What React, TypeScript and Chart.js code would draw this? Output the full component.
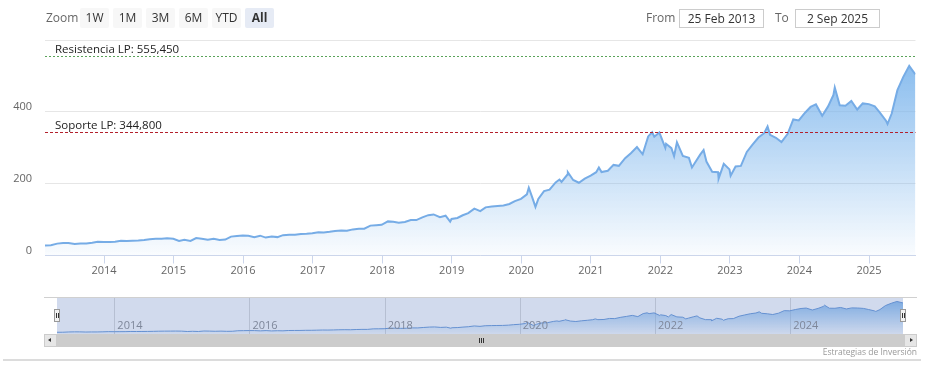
import React, { useEffect, useRef } from "react";
import { Chart, registerables } from "chart.js";
Chart.register(...registerables);

const dates = [
  "2013-02-25","2013-03-28","2013-04-30","2013-05-31","2013-06-28","2013-07-31","2013-08-30","2013-09-30","2013-10-31","2013-11-29","2013-12-31",
  "2014-01-31","2014-02-28","2014-03-31","2014-04-30","2014-05-30","2014-06-30","2014-07-31","2014-08-29","2014-09-30","2014-10-31","2014-11-28","2014-12-31",
  "2015-01-30","2015-02-27","2015-03-31","2015-04-30","2015-05-29","2015-06-30","2015-07-31","2015-08-31","2015-09-30","2015-10-30","2015-11-30","2015-12-31",
  "2016-01-29","2016-02-29","2016-03-31","2016-04-29","2016-05-31","2016-06-30","2016-07-29","2016-08-31","2016-09-30","2016-10-31","2016-11-30","2016-12-30",
  "2017-01-31","2017-02-28","2017-03-31","2017-04-28","2017-05-31","2017-06-30","2017-07-31","2017-08-31","2017-09-29","2017-10-31","2017-11-30","2017-12-29",
  "2018-01-31","2018-02-28","2018-03-29","2018-04-30","2018-05-31","2018-06-29","2018-07-31","2018-08-31","2018-09-28","2018-10-31","2018-11-30","2018-12-24","2018-12-31",
  "2019-01-31","2019-02-28","2019-03-29","2019-04-30","2019-05-31","2019-06-28","2019-07-31","2019-08-30","2019-09-30","2019-10-31","2019-11-29","2019-12-31",
  "2020-01-31","2020-02-10","2020-02-28","2020-03-16","2020-03-31","2020-04-30","2020-05-29","2020-06-30","2020-07-20","2020-07-31","2020-08-31","2020-09-02","2020-09-30","2020-10-30","2020-11-30","2020-12-31",
  "2021-01-29","2021-02-12","2021-02-26","2021-03-31","2021-04-30","2021-05-28","2021-06-30","2021-07-30","2021-08-31","2021-09-30","2021-10-29","2021-11-19","2021-11-30","2021-12-27","2021-12-31",
  "2022-01-27","2022-01-31","2022-02-28","2022-03-14","2022-03-29","2022-04-29","2022-05-31","2022-06-16","2022-06-30","2022-07-29","2022-08-16","2022-08-31","2022-09-30","2022-10-31","2022-11-03","2022-11-30","2022-12-30",
  "2023-01-05","2023-01-31","2023-02-28","2023-03-31","2023-04-28","2023-05-31","2023-06-30","2023-07-18","2023-07-31","2023-08-31","2023-09-29","2023-10-31","2023-11-30","2023-12-29",
  "2024-01-31","2024-02-29","2024-03-28","2024-04-30","2024-05-31","2024-06-28","2024-07-05","2024-07-31","2024-08-30","2024-09-30","2024-10-31","2024-11-29","2024-12-31",
  "2025-01-31","2025-02-28","2025-03-31","2025-04-08","2025-04-30","2025-05-30","2025-06-30","2025-07-31","2025-08-29","2025-09-02"
];

const closes = [
  27.9,28.6,33.1,34.9,34.5,31.8,33.4,33.3,35.4,38.1,37.4,
  37.8,38.3,40.9,40.4,40.9,41.7,43.2,45.4,46.4,46.9,47.8,46.5,
  40.4,43.9,40.7,48.6,46.9,44.2,46.7,43.5,44.3,52.6,54.4,55.5,
  55.1,50.9,55.2,49.9,53.0,51.2,56.7,57.5,57.6,59.9,60.3,62.1,
  64.7,64.0,65.9,68.5,69.8,68.9,72.7,74.8,74.5,83.2,84.2,85.5,
  95.0,93.8,91.3,93.5,98.8,98.6,106.1,112.3,114.4,106.8,110.9,94.1,101.6,
  104.4,112.0,117.9,130.6,123.7,134.0,136.3,137.9,139.0,143.4,151.4,157.7,
  170.2,188.7,162.0,135.4,157.7,179.2,183.3,203.5,211.6,205.0,225.5,231.7,210.3,202.5,214.1,222.4,
  232.0,245.0,232.4,235.8,252.2,249.7,270.9,284.9,301.9,281.9,331.6,343.1,330.6,342.5,336.3,
  299.8,311.0,298.8,276.4,315.4,277.5,271.9,245.0,256.8,280.7,293.5,261.5,232.9,232.1,214.3,255.1,239.8,
  222.3,247.8,249.4,288.3,307.3,328.4,340.5,359.5,335.9,327.8,315.8,338.1,378.9,376.0,
  397.6,413.6,420.7,389.3,415.1,446.9,467.6,418.4,417.1,430.3,406.4,423.5,421.5,
  415.1,397.0,375.4,366.0,395.3,460.4,497.4,528.0,506.7,505.1
];

const yTickValues = [0, 200, 400, 600];
const xTickYears = [2014, 2015, 2016, 2017, 2018, 2019, 2020, 2021, 2022, 2023, 2024, 2025];
const navTickYears = [2014, 2016, 2018, 2020, 2022, 2024];
const levelNames = ["Resistencia LP: 555,450", "Soporte LP: 344,800"];
const levelValues = [555.45, 344.8];
const levelColors = ["#5aa35a", "#b3202c"];
const levelDashes = [[2, 2], [3, 2]];
const zoomButtons = ["1W", "1M", "3M", "6M", "YTD", "All"];
const fromText = "25 Feb 2013";
const toText = "2 Sep 2025";
const creditText = "Estrategias de Inversión";

const toMs = (s: string) => {
  const [y, m, d] = s.split("-").map(Number);
  return Date.UTC(y, m - 1, d);
};
const xMin = toMs("2013-02-25");
const xMax = toMs("2025-09-02");
const points = dates.map((d, i) => ({ x: toMs(d), y: closes[i] }));

const FONT = '"Open Sans", "DejaVu Sans", sans-serif';

const gradientFill = (ctx: any) => {
  const chart = ctx.chart;
  const area = chart.chartArea;
  if (!area) return "rgba(124,181,236,0.5)";
  const g = chart.ctx.createLinearGradient(0, area.top, 0, area.bottom);
  g.addColorStop(0, "rgba(124,181,236,1)");
  g.addColorStop(1, "rgba(124,181,236,0.04)");
  return g;
};

const levelsPlugin = {
  id: "levels",
  afterDatasetsDraw(chart: any) {
    const { ctx, chartArea, scales } = chart;
    const y = scales.y;
    levelValues.forEach((v, i) => {
      const py = Math.round(y.getPixelForValue(v)) + 0.5;
      ctx.save();
      ctx.strokeStyle = levelColors[i];
      ctx.lineWidth = 1;
      ctx.setLineDash(levelDashes[i]);
      ctx.beginPath();
      ctx.moveTo(chartArea.left, py);
      ctx.lineTo(chartArea.right, py);
      ctx.stroke();
      ctx.setLineDash([]);
      ctx.fillStyle = "#222";
      ctx.font = `11.5px ${FONT}`;
      ctx.textBaseline = "middle";
      ctx.textAlign = "left";
      ctx.fillText(levelNames[i], chartArea.left + 10, py - 7);
      ctx.restore();
    });
  },
};

const navGridPlugin = {
  id: "navGrid",
  beforeDatasetsDraw(chart: any) {
    const { ctx, chartArea, scales } = chart;
    ctx.save();
    ctx.strokeStyle = "#d8d8d8";
    ctx.lineWidth = 1;
    navTickYears.forEach((yr) => {
      const px = Math.round(scales.x.getPixelForValue(Date.UTC(yr, 0, 1))) + 0.5;
      ctx.beginPath();
      ctx.moveTo(px, chartArea.top);
      ctx.lineTo(px, chartArea.bottom);
      ctx.stroke();
    });
    ctx.restore();
  },
  afterDatasetsDraw(chart: any) {
    const { ctx, scales } = chart;
    ctx.save();
    ctx.fillStyle = "#888";
    ctx.font = `11px ${FONT}`;
    ctx.textBaseline = "middle";
    ctx.textAlign = "left";
    navTickYears.forEach((yr) => {
      const px = scales.x.getPixelForValue(Date.UTC(yr, 0, 1));
      ctx.fillText(String(yr), px + 3, 29);
    });
    ctx.restore();
  },
};

function MainChart() {
  const ref = useRef<HTMLCanvasElement>(null);
  useEffect(() => {
    const chart = new Chart(ref.current!, {
      type: "line",
      data: {
        datasets: [
          {
            data: points,
            borderColor: "rgb(118,172,230)",
            borderWidth: 2,
            backgroundColor: gradientFill,
            fill: "origin",
            pointRadius: 0,
            tension: 0,
          },
        ],
      },
      options: {
        animation: false,
        responsive: false,
        events: [],
        layout: { padding: { top: 40, right: 15.5, left: 0, bottom: 0 } },
        plugins: { legend: { display: false }, tooltip: { enabled: false } },
        scales: {
          x: {
            type: "linear",
            min: xMin,
            max: xMax,
            afterBuildTicks: (s: any) => {
              s.ticks = xTickYears.map((y) => ({ value: Date.UTC(y, 0, 1) }));
            },
            afterFit: (s: any) => {
              s.height = 24.5;
            },
            ticks: {
              callback: (v: any) => String(new Date(v).getUTCFullYear()),
              color: "#666",
              font: { family: FONT, size: 11 },
              padding: 1,
              maxRotation: 0,
              autoSkip: false,
            },
            grid: { drawOnChartArea: false, tickLength: 8, color: "#ccd6eb" },
            border: { color: "#ccd6eb" },
          },
          y: {
            min: 0,
            max: 600,
            afterBuildTicks: (s: any) => {
              s.ticks = yTickValues.map((v) => ({ value: v }));
            },
            afterFit: (s: any) => {
              s.width = 45;
            },
            ticks: {
              callback: (v: any) => (v === 600 ? "" : String(v)),
              color: "#666",
              font: { family: FONT, size: 11 },
              padding: 13,
              labelOffset: -5,
            },
            grid: { color: "#e6e6e6", drawTicks: false },
            border: { display: false },
          },
        },
      },
      plugins: [levelsPlugin],
    } as any);
    return () => chart.destroy();
  }, []);
  return (
    <canvas
      ref={ref}
      width={931}
      height={280}
      style={{ position: "absolute", left: 0, top: 0, width: 931, height: 280 }}
    />
  );
}

function NavigatorChart() {
  const ref = useRef<HTMLCanvasElement>(null);
  useEffect(() => {
    const chart = new Chart(ref.current!, {
      type: "line",
      data: {
        datasets: [
          {
            data: points,
            borderColor: "rgb(100,150,215)",
            borderWidth: 1,
            backgroundColor: gradientFill,
            fill: "origin",
            pointRadius: 0,
            tension: 0,
          },
        ],
      },
      options: {
        animation: false,
        responsive: false,
        events: [],
        layout: { padding: 0 },
        plugins: { legend: { display: false }, tooltip: { enabled: false } },
        scales: {
          x: { type: "linear", min: xMin, max: xMax, display: false },
          y: { min: 0, max: 600, display: false },
        },
      },
      plugins: [navGridPlugin],
    } as any);
    return () => chart.destroy();
  }, []);
  return (
    <canvas
      ref={ref}
      width={846}
      height={37}
      style={{ position: "absolute", left: 57, top: 297, width: 846, height: 37 }}
    />
  );
}

const Handle = ({ left }: { left: number }) => (
  <div
    style={{
      position: "absolute",
      left,
      top: 309,
      width: 6,
      height: 13,
      background: "#f2f2f2",
      border: "1px solid #999",
      boxSizing: "border-box",
    }}
  >
    <div style={{ position: "absolute", left: 1, top: 3, width: 1, height: 5, background: "#333" }} />
    <div style={{ position: "absolute", left: 3, top: 3, width: 1, height: 5, background: "#333" }} />
  </div>
);

export default function App() {
  const txt: React.CSSProperties = {
    position: "absolute",
    fontFamily: FONT,
    fontSize: 12,
    lineHeight: "20px",
    whiteSpace: "nowrap",
  };
  return (
    <div
      style={{
        position: "absolute",
        left: 0,
        top: 0,
        width: 931,
        height: 377,
        background: "#fff",
        overflow: "hidden",
      }}
    >
      <MainChart />
      {/* range selector */}
      <div style={{ ...txt, left: 46, top: 8, color: "#666" }}>Zoom</div>
      {zoomButtons.map((b, i) => (
        <div
          key={b}
          style={{
            ...txt,
            left: 80 + i * 33,
            top: 8,
            width: 29,
            height: 20,
            textAlign: "center",
            background: b === "All" ? "#e6ebf5" : "#f7f7f7",
            color: "#333",
            fontWeight: b === "All" ? 700 : 400,
            borderRadius: 2,
          }}
        >
          {b}
        </div>
      ))}
      <div style={{ ...txt, left: 646, top: 8, color: "#666" }}>From</div>
      <div
        style={{
          ...txt,
          left: 679,
          top: 9,
          width: 85,
          height: 19,
          lineHeight: "17px",
          boxSizing: "border-box",
          border: "1px solid #ccc",
          textAlign: "center",
          color: "#333",
        }}
      >
        {fromText}
      </div>
      <div style={{ ...txt, left: 775, top: 8, color: "#666" }}>To</div>
      <div
        style={{
          ...txt,
          left: 795,
          top: 9,
          width: 85,
          height: 19,
          lineHeight: "17px",
          boxSizing: "border-box",
          border: "1px solid #ccc",
          textAlign: "center",
          color: "#333",
        }}
      >
        {toText}
      </div>

      {/* navigator */}
      <NavigatorChart />
      <div
        style={{
          position: "absolute",
          left: 57,
          top: 297,
          width: 846,
          height: 37,
          background: "rgba(102,133,194,0.3)",
        }}
      />
      <div style={{ position: "absolute", left: 44, top: 297, width: 873, height: 1, background: "#d0d0d0" }} />
      <Handle left={54} />
      <Handle left={900} />
      {/* scrollbar */}
      <div style={{ position: "absolute", left: 44, top: 334, width: 873, height: 13, background: "#ccc" }} />
      <div
        style={{
          position: "absolute",
          left: 44,
          top: 334,
          width: 13,
          height: 13,
          background: "#e6e6e6",
          boxSizing: "border-box",
          border: "1px solid #ccc",
        }}
      >
        <div
          style={{
            position: "absolute",
            left: 3,
            top: 3,
            width: 0,
            height: 0,
            borderTop: "2.5px solid transparent",
            borderBottom: "2.5px solid transparent",
            borderRight: "3px solid #333",
          }}
        />
      </div>
      <div
        style={{
          position: "absolute",
          left: 904,
          top: 334,
          width: 13,
          height: 13,
          background: "#e6e6e6",
          boxSizing: "border-box",
          border: "1px solid #ccc",
        }}
      >
        <div
          style={{
            position: "absolute",
            left: 5,
            top: 3,
            width: 0,
            height: 0,
            borderTop: "2.5px solid transparent",
            borderBottom: "2.5px solid transparent",
            borderLeft: "3px solid #333",
          }}
        />
      </div>
      {[0, 1, 2].map((k) => (
        <div
          key={k}
          style={{ position: "absolute", left: 479 + k * 2, top: 338, width: 1, height: 5, background: "#333" }}
        />
      ))}
      {/* credits */}
      <div
        style={{
          position: "absolute",
          right: 931 - 917,
          top: 346,
          fontFamily: FONT,
          fontSize: 8.5,
          lineHeight: "12px",
          color: "#999",
          whiteSpace: "nowrap",
        }}
      >
        {creditText}
      </div>
      <div style={{ position: "absolute", left: 3, top: 359, width: 918, height: 2, background: "#dcdcdc" }} />
    </div>
  );
}
